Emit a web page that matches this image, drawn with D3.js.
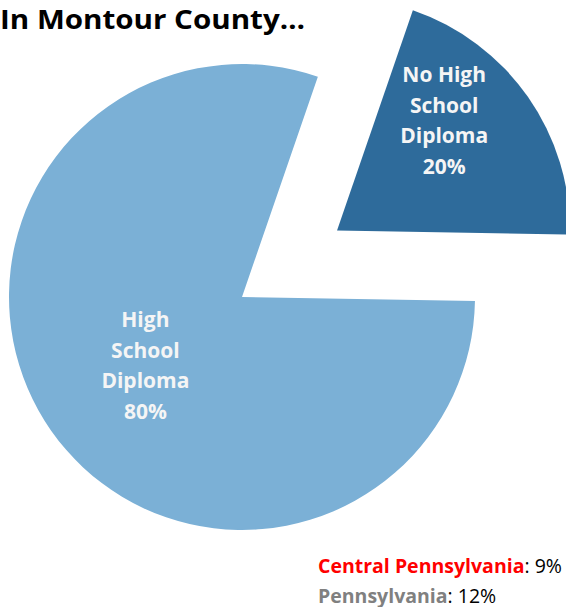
<!DOCTYPE html>
<html>
<head>
<meta charset="utf-8">
<script src="https://cdn.jsdelivr.net/npm/d3@7"></script>
<style>
  html, body { margin: 0; padding: 0; background: #ffffff; }
  svg { display: block; }
  text { font-family: "Open Sans", "Liberation Sans", sans-serif; }
</style>
</head>
<body>
<svg id="chart" width="566" height="607"></svg>
<script>
// ---- data ----
const title = "In Montour County\u2026";
const categories = ["No High School Diploma", "High School Diploma"];
const labelLines = [["No High", "School", "Diploma"], ["High", "School", "Diploma"]];
const values = [20, 80];
const sliceColors = ["#2E6B9B", "#7BB0D6"];
const compareRegions = ["Central Pennsylvania", "Pennsylvania"];
const compareValues = [9, 12];
const compareColors = ["#FF0000", "#808080"];

// ---- layout ----
const W = 566, H = 607;
const cx = 242, cy = 297, R = 233;
const startDeg = 19;
const explode = [116, 0];
const labelRadius = [149, 121];
const labelAngleShift = [-9, -2]; // degrees, best-fit placement
const labelDy = [1, 3];
const lineH = 30.5;

const svg = d3.select("#chart");

svg.append("text")
  .attr("x", 0).attr("y", 29)
  .attr("font-size", 27).attr("font-weight", 700).attr("fill", "#000")
  .attr("textLength", 305).attr("lengthAdjust", "spacingAndGlyphs")
  .text(title);

const pie = d3.pie().sort(null)
  .startAngle(startDeg * Math.PI / 180)
  .endAngle(startDeg * Math.PI / 180 + 2 * Math.PI);
const arcs = pie(values);
const arc = d3.arc().innerRadius(0).outerRadius(R);

const g = svg.append("g").attr("transform", `translate(${cx},${cy})`);

const slices = g.selectAll("g.slice").data(arcs).join("g").attr("class", "slice")
  .attr("transform", (d, i) => {
    const m = (d.startAngle + d.endAngle) / 2;
    return `translate(${explode[i] * Math.sin(m)},${-explode[i] * Math.cos(m)})`;
  });

slices.append("path")
  .attr("d", arc)
  .attr("fill", (d, i) => sliceColors[i]);

slices.each(function(d, i) {
  const m = (d.startAngle + d.endAngle) / 2 + labelAngleShift[i] * Math.PI / 180;
  const lx = labelRadius[i] * Math.sin(m);
  const ly = -labelRadius[i] * Math.cos(m);
  const lines = labelLines[i].concat([values[i] + "%"]);
  const t = d3.select(this).append("text")
    .attr("text-anchor", "middle")
    .attr("font-size", 21).attr("font-weight", 700).attr("fill", "#F5F5F5");
  lines.forEach((ln, k) => {
    t.append("tspan").attr("x", lx)
      .attr("y", ly + (k - (lines.length - 1) / 2) * lineH + labelDy[i])
      .text(ln);
  });
});

// comparison legend
const leg = svg.append("g");
compareRegions.forEach((r, i) => {
  const t = leg.append("text")
    .attr("x", 318).attr("y", 573 + i * 29.5)
    .attr("font-size", 19.5);
  t.append("tspan").attr("font-weight", 700).attr("fill", compareColors[i]).text(r);
  t.append("tspan").attr("fill", "#000").text(": " + compareValues[i] + "%");
});
</script>
</body>
</html>
